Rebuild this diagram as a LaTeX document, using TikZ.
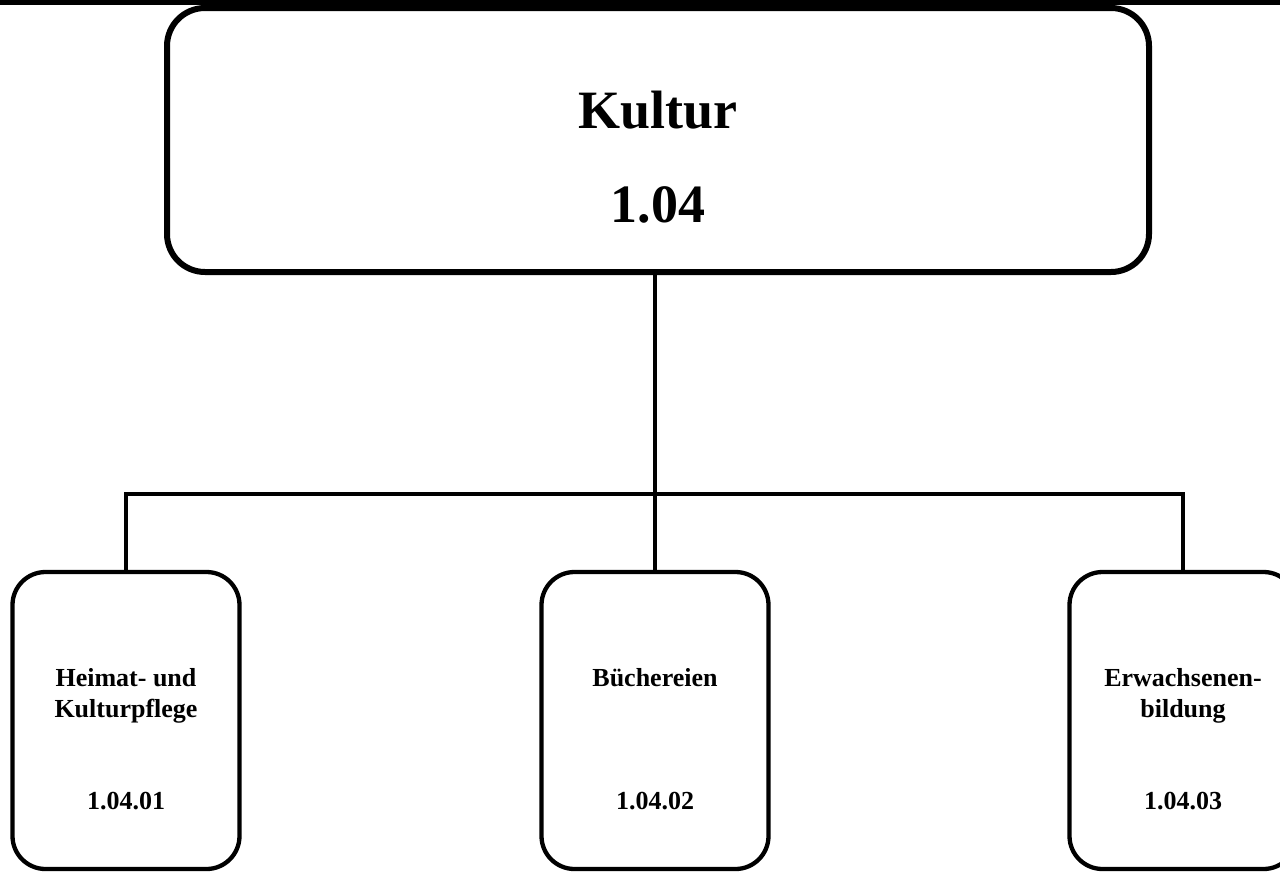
\documentclass[tikz,border=0pt]{standalone}
\usepackage{fontspec}
\setmainfont{Liberation Serif}
\begin{document}
\begin{tikzpicture}[x=1pt,y=-1pt,
  topbox/.style={draw,line width=6pt,rounded corners=38pt,minimum width=982pt,minimum height=264pt,inner sep=0pt},
  subbox/.style={draw,line width=4.3pt,rounded corners=33pt,minimum width=227pt,minimum height=297pt,inner sep=0pt},
  bigtext/.style={font=\fontsize{54}{60}\selectfont\bfseries,anchor=base,inner sep=0pt},
  subtext/.style={font=\fontsize{26}{31}\selectfont\bfseries,anchor=base,inner sep=0pt,align=center},
  link/.style={line width=3.5pt}]
  \useasboundingbox (0,0) rectangle (1280,873);
  \clip (0,0) rectangle (1280,873);
  % rule along the top edge
  \fill (0,0) rectangle (1280,4.5);
  % main unit
  \node[topbox] (kultur) at (658,140) {};
  \node[bigtext] (kname) at (658,128) {Kultur};
  \node[bigtext] (knum) at (658,222) {1.04};
  % sub units
  \node[subbox] (c1) at (126,720.5) {};
  \node[subbox] (c2) at (655,720.5) {};
  \node[subbox] (c3) at (1183,720.5) {};
  % two-line labels sit on the baseline of their last line
  \node[subtext] (t1) at (126,717) {Heimat- und\\Kulturpflege};
  \node[subtext] (n1) at (126,809) {1.04.01};
  \node[subtext] (t2) at (655,686) {Büchereien};
  \node[subtext] (n2) at (655,809) {1.04.02};
  \node[subtext] (t3) at (1183,717) {Erwachsenen-\\bildung};
  \node[subtext] (n3) at (1183,809) {1.04.03};
  % connectors
  \coordinate (bus) at (655,494);
  \draw[link] (kultur.south -| c2.north) -- (c2.north);
  \draw[link] (c1.north) -- (c1.north |- bus) -- (c3.north |- bus) -- (c3.north);
\end{tikzpicture}
\end{document}
